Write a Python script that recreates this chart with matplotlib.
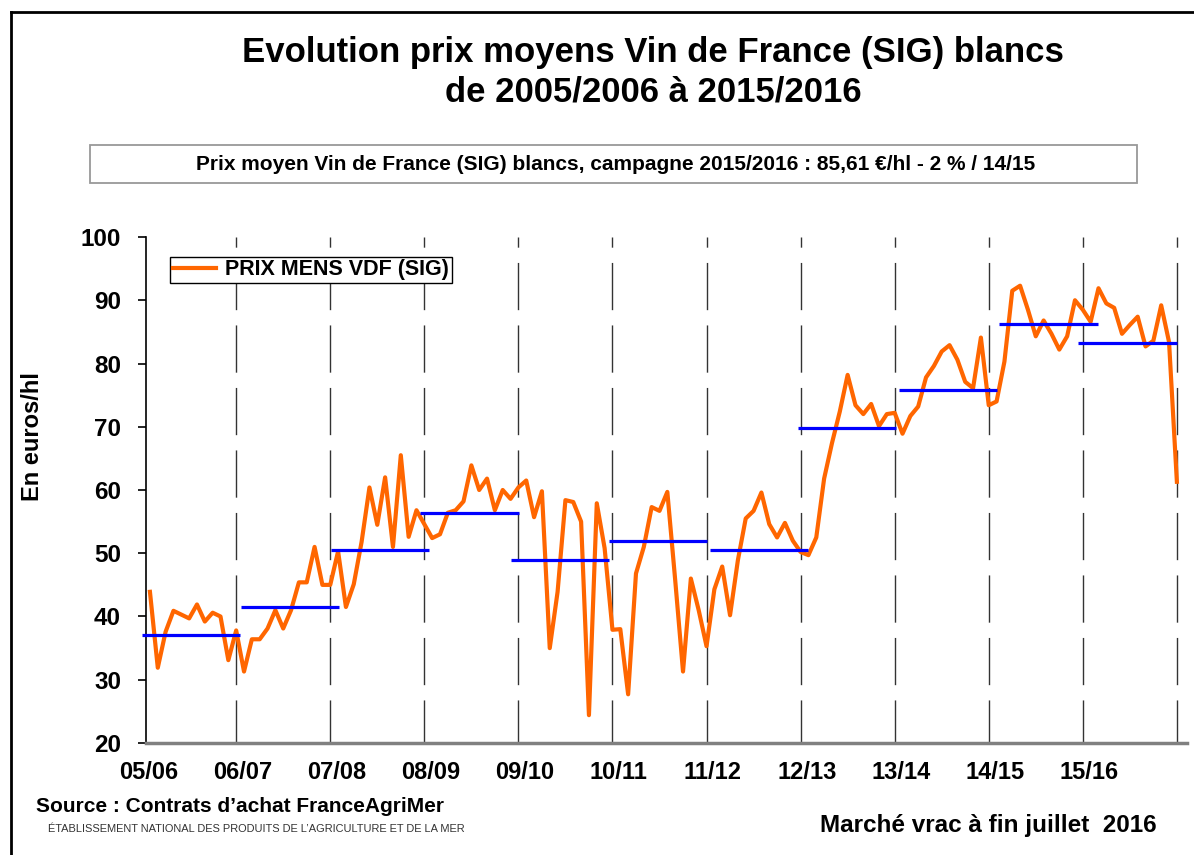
import matplotlib
matplotlib.use("Agg")
import matplotlib.pyplot as plt
from matplotlib.patches import Rectangle
from matplotlib.lines import Line2D

plt.rcParams['font.family'] = ['Liberation Sans', 'DejaVu Sans']

campagnes = ["05/06", "06/07", "07/08", "08/09", "09/10", "10/11",
             "11/12", "12/13", "13/14", "14/15", "15/16"]

# prix mensuels (euros/hl), aout -> juillet, par campagne
prix_0506 = [43.9, 31.9, 37.6, 40.9, 40.3, 39.7, 41.9, 39.2, 40.6, 40.0, 33.1, 37.8]
prix_0607 = [31.3, 36.4, 36.4, 38.1, 41.0, 38.1, 41.0, 45.4, 45.4, 51.0, 45.0, 45.0]
prix_0708 = [50.3, 41.5, 45.1, 51.8, 60.4, 54.5, 62.0, 51.0, 65.5, 52.6, 56.8, 54.6]
prix_0809 = [52.4, 53.0, 56.4, 56.8, 58.2, 63.9, 60.0, 61.8, 56.8, 60.0, 58.6, 60.4]
prix_0910 = [61.5, 55.7, 59.8, 35.0, 43.9, 58.4, 58.1, 55.0, 24.4, 57.9, 50.8, 37.9]
prix_1011 = [38.0, 27.7, 46.8, 51.0, 57.3, 56.7, 59.7, 45.8, 31.3, 46.0, 41.0, 35.3]
prix_1112 = [44.3, 47.9, 40.2, 48.9, 55.5, 56.7, 59.6, 54.6, 52.5, 54.8, 52.0, 50.2]
prix_1213 = [49.7, 52.5, 61.8, 67.4, 72.4, 78.2, 73.4, 72.0, 73.6, 70.1, 72.0, 72.2]
prix_1314 = [68.9, 71.7, 73.2, 77.8, 79.6, 81.9, 82.9, 80.6, 77.1, 76.1, 84.1, 73.4]
prix_1415 = [74.0, 80.3, 91.5, 92.3, 88.5, 84.3, 86.8, 84.7, 82.2, 84.3, 90.0, 88.5]
prix_1516 = [86.6, 91.9, 89.5, 88.8, 84.7, 86.1, 87.4, 82.7, 83.6, 89.2, 83.4, 61.3]

# moyenne de chaque campagne et etendue (en mois) du trait
moyennes = [37.1, 41.5, 50.5, 56.3, 48.9, 51.9, 50.5, 69.8, 75.8, 86.2, 83.2]
moy_debut = [-1.0, 11.6, 23.1, 34.4, 46.1, 58.6, 71.4, 82.7, 95.5, 108.3, 118.4]
moy_fin = [11.5, 24.1, 35.6, 47.1, 58.6, 71.1, 83.9, 95.2, 108.0, 121.0, 131.0]

prix = (prix_0506 + prix_0607 + prix_0708 + prix_0809 + prix_0910 + prix_1011
        + prix_1112 + prix_1213 + prix_1314 + prix_1415 + prix_1516)
mois = list(range(len(prix)))

fig = plt.figure(figsize=(11.94, 8.55), dpi=100)
ax = fig.add_axes([0.1223, 0.131, 0.8719, 0.5918])

# separations des campagnes
for k in range(1, 12):
    ax.axvline(12 * k - 1, color="#333333", lw=1.0, ls=(3, (34, 11)), zorder=1)

ax.plot(mois, prix, color="#FF6600", lw=3.0, label="PRIX MENS VDF (SIG)", zorder=2)
for y, x0, x1 in zip(moyennes, moy_debut, moy_fin):
    ax.plot([x0, x1], [y, y], color="#0000FF", lw=2.3, zorder=3, clip_on=False,
            solid_capstyle="butt")

ax.set_xlim(-0.5, 132.3)
ax.set_ylim(20, 100)
ax.set_yticks(range(20, 101, 10))
ax.set_xticks([12 * k - 0.2 for k in range(len(campagnes))])
ax.set_xticklabels(campagnes)
ax.tick_params(axis="x", length=0, pad=13, labelsize=17)
ax.tick_params(axis="y", length=6, width=1.2, direction="out", pad=12, labelsize=17.5)
for lab in ax.get_xticklabels() + ax.get_yticklabels():
    lab.set_fontweight("bold")

ax.spines["top"].set_visible(False)
ax.spines["right"].set_visible(False)
ax.spines["left"].set_linewidth(1.2)
ax.spines["bottom"].set_color("#808080")
ax.spines["bottom"].set_linewidth(2.5)

leg = ax.legend(loc="upper left", bbox_to_anchor=(0.023, 0.961), borderaxespad=0,
                fancybox=False, edgecolor="black", framealpha=1, handlelength=2.0,
                borderpad=0.12, handletextpad=0.45,
                prop={"weight": "bold", "size": 15.5})
leg.get_frame().set_linewidth(1.0)

# cadre exterieur
fig.add_artist(Line2D([0.0092, 1.0], [0.986, 0.986], color="black", lw=2,
                      transform=fig.transFigure))
fig.add_artist(Line2D([0.0092, 0.0092], [0.0, 0.986], color="black", lw=2,
                      transform=fig.transFigure))

fig.text(0.547, 0.939, "Evolution prix moyens Vin de France (SIG) blancs",
         ha="center", va="center", fontsize=25, fontweight="bold")
fig.text(0.547, 0.892, "de 2005/2006 à 2015/2016",
         ha="center", va="center", fontsize=25, fontweight="bold")

fig.add_artist(Rectangle((0.0754, 0.786), 0.8769, 0.0444, transform=fig.transFigure,
                         facecolor="white", edgecolor="#999999", lw=1.3))
fig.text(0.5155, 0.808,
         "Prix moyen Vin de France (SIG) blancs, campagne 2015/2016 : 85,61 €/hl - 2 % / 14/15",
         ha="center", va="center", fontsize=15, fontweight="bold")

fig.text(0.0276, 0.489, "En euros/hl", rotation=90, ha="center", va="center",
         fontsize=17, fontweight="bold")

fig.text(0.030, 0.057, "Source : Contrats d\u2019achat FranceAgriMer", ha="left",
         va="center", fontsize=15, fontweight="bold")
fig.text(0.040, 0.030, "ÉTABLISSEMENT NATIONAL DES PRODUITS DE L\u2019AGRICULTURE ET DE LA MER",
         ha="left", va="center", fontsize=7.9, color="#333333")
fig.text(0.969, 0.034, "Marché vrac à fin juillet  2016", ha="right", va="center",
         fontsize=17.5, fontweight="bold")

fig.savefig("out.png", dpi=100)
